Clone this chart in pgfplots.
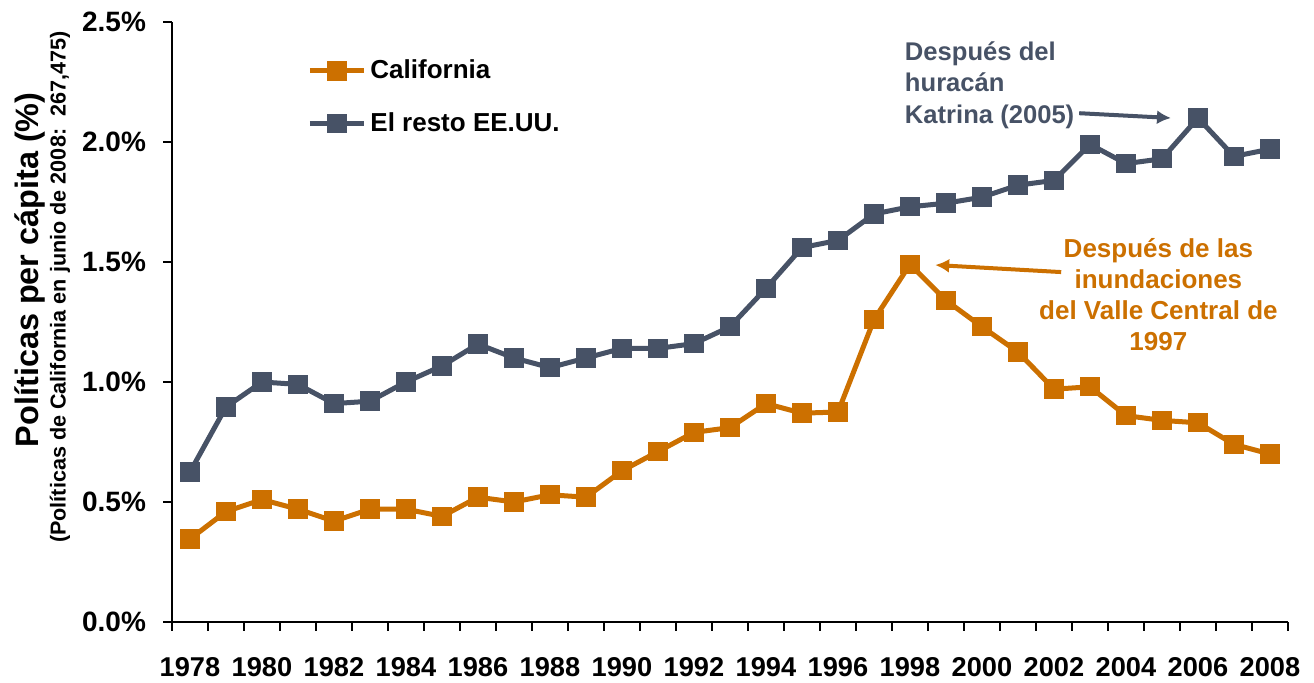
\documentclass[border=0pt]{standalone}
\usepackage{pgfplots}
\pgfplotsset{compat=1.18}
\usepackage{fontspec}
\setmainfont{Liberation Sans}
\usetikzlibrary{arrows.meta}
\definecolor{caor}{RGB}{204,112,0}
\definecolor{slate}{RGB}{71,82,102}
\begin{document}
\begin{tikzpicture}
\begin{axis}[
  at={(0,0)}, anchor=south west,
  scale only axis, width=558pt, height=300pt,
  xmin=1977.5, xmax=2008.5, ymin=0, ymax=2.5,
  axis x line*=bottom, axis y line*=left,
  axis line style={line width=0.8pt, -},
  clip=false,
  tick align=outside,
  major tick length=4.5pt,
  tick style={black, line width=0.8pt},
  xtick={1977.5,1978.5,...,2008.5},
  xticklabels={},
  extra x ticks={1978,1980,...,2008},
  extra x tick style={major tick length=0pt, tick style={draw=none}},
  extra x tick labels={1978,1980,1982,1984,1986,1988,1990,1992,1994,1996,1998,2000,2002,2004,2006,2008},
  xticklabel style={font=\fontsize{13.6}{16}\selectfont\bfseries, yshift=-14pt},
  ytick={0,0.5,...,2.5},
  yticklabels={0.0\%,0.5\%,1.0\%,1.5\%,2.0\%,2.5\%},
  yticklabel style={font=\fontsize{14}{16}\selectfont\bfseries, xshift=-5pt},
  legend style={at={(rel axis cs:0.121,0.944)}, anchor=north west, draw=none, fill=none,
    font=\fontsize{13}{15}\selectfont\bfseries, row sep=11.5pt, inner sep=0pt},
  legend cell align=left,
  legend image code/.code={
    \draw[#1, mark repeat=2, mark phase=2] plot coordinates {(0pt,0pt) (13.5pt,0pt) (27pt,0pt)};
  },
]
\addplot[color=caor, line width=2.5pt, mark=square*, mark size=4.6pt, mark options={solid, line width=0pt}] coordinates {
(1978,0.346) (1979,0.46) (1980,0.51) (1981,0.47) (1982,0.42) (1983,0.47) (1984,0.47) (1985,0.44)
(1986,0.52) (1987,0.50) (1988,0.53) (1989,0.52) (1990,0.63) (1991,0.71) (1992,0.79) (1993,0.81)
(1994,0.91) (1995,0.87) (1996,0.875) (1997,1.26) (1998,1.49) (1999,1.34) (2000,1.23) (2001,1.125)
(2002,0.97) (2003,0.98) (2004,0.86) (2005,0.84) (2006,0.83) (2007,0.74) (2008,0.70)
};
\addlegendentry{California}
\addplot[color=slate, line width=2.5pt, mark=square*, mark size=4.6pt, mark options={solid, line width=0pt}] coordinates {
(1978,0.625) (1979,0.896) (1980,1.0) (1981,0.99) (1982,0.91) (1983,0.92) (1984,1.0) (1985,1.067)
(1986,1.158) (1987,1.10) (1988,1.06) (1989,1.10) (1990,1.14) (1991,1.14) (1992,1.16) (1993,1.23)
(1994,1.39) (1995,1.56) (1996,1.59) (1997,1.70) (1998,1.73) (1999,1.745) (2000,1.77) (2001,1.82)
(2002,1.84) (2003,1.99) (2004,1.91) (2005,1.93) (2006,2.10) (2007,1.94) (2008,1.97)
};
\addlegendentry{El resto EE.UU.}
% y labels
\node[rotate=90, font=\fontsize{16.2}{18}\selectfont\bfseries] at (rel axis cs:-0.1272,0.587) {Políticas per cápita (\%)};
\node[rotate=90, font=\fontsize{10.8}{12}\selectfont\bfseries] at (rel axis cs:-0.1005,0.558) {(Políticas de California en junio de 2008:\ \ 267,475)};
% annotations
\node[anchor=north west, align=left, text=slate, font=\fontsize{12.8}{15.7}\selectfont\bfseries, inner sep=0pt]
  at (axis cs:1997.85,2.42) {Después del\\huracán\\Katrina (2005)};
\draw[slate, line width=2pt, -{Latex[length=7pt,width=7pt]}] (axis cs:2002.7,2.12) -- (axis cs:2005.25,2.10);
\node[anchor=north, align=center, text=caor, font=\fontsize{13}{15.5}\selectfont\bfseries, inner sep=0pt]
  at (axis cs:2004.9,1.60) {Después de las\\inundaciones\\del Valle Central de\\1997};
\draw[caor, line width=2pt, -{Latex[length=7pt,width=7pt]}] (axis cs:2002.2,1.458) -- (axis cs:1998.7,1.4875);
\end{axis}
\path[use as bounding box] (-86pt,-29.5pt) rectangle (571pt,311pt);
\end{tikzpicture}
\end{document}
